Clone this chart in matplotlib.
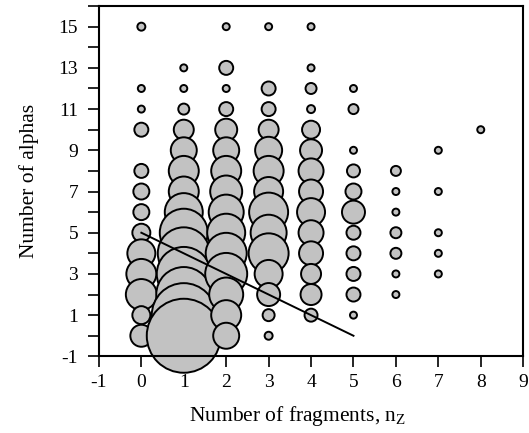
import matplotlib
matplotlib.use("Agg")
import matplotlib.pyplot as plt
import numpy as np

# fragment multiplicity, alpha multiplicity and relative bubble radius
nz = [0] * 13 + [1] * 14 + [2] * 15 + [3] * 14 + [4] * 14 + [5] * 11 + [6] * 7 + [7] * 5 + [8]
alphas = [15, 12, 11, 10, 8, 7, 6, 5, 4, 3, 2, 1, 0,
          13, 12, 11, 10, 9, 8, 7, 6, 5, 4, 3, 2, 1, 0,
          15, 13, 12, 11, 10, 9, 8, 7, 6, 5, 4, 3, 2, 1, 0,
          15, 12, 11, 10, 9, 8, 7, 6, 5, 4, 3, 2, 1, 0,
          15, 13, 12, 11, 10, 9, 8, 7, 6, 5, 4, 3, 2, 1,
          12, 11, 9, 8, 7, 6, 5, 4, 3, 2, 1,
          8, 7, 6, 5, 4, 3, 2,
          9, 7, 5, 4, 3,
          10]
weight = [4, 3.5, 3.5, 7, 7, 8, 8, 9, 14, 15, 15.5, 9, 11,
          3.5, 3.5, 5.5, 10, 13, 15, 15, 19, 24, 26, 27, 27.5, 32, 37,
          3.5, 7, 3.5, 7, 11, 13, 15, 16, 17.5, 19, 20.5, 21, 17, 15, 13,
          3.5, 7, 7, 10, 13.5, 15, 14.5, 19.5, 18, 20, 14, 11.5, 6, 4,
          3.5, 3.5, 5.5, 4, 9, 11, 12.5, 12, 14, 12.5, 12, 10, 10.5, 6.5,
          3.5, 5, 3.5, 6.5, 8, 11.5, 7, 7, 7, 7, 3.5,
          5, 3.5, 3.5, 5.5, 5.5, 3.5, 3.5,
          3.5, 3.5, 3.5, 3.5, 3.5,
          3.5]

# straight-line trend drawn across the distribution
line_x = [0, 5]
line_y = [5, 0]

plt.rcParams['font.family'] = ['Liberation Serif', 'DejaVu Serif']
plt.rcParams['axes.unicode_minus'] = False

fig = plt.figure(figsize=(5.29, 4.33), dpi=100)
ax = fig.add_axes([0.187, 0.177, 0.802, 0.809])

# radius in pixels -> marker area in points^2
size = (2 * np.array(weight) * 72 / 100) ** 2
ax.scatter(nz, alphas, s=size, c='#c2c2c2', edgecolors='black', linewidths=1.4,
           zorder=2, clip_on=False)
ax.plot(line_x, line_y, color='black', linewidth=1.4, zorder=3)

ax.set_xlim(-1, 9)
ax.set_ylim(-1, 16)
ax.set_xticks(np.arange(-1, 10, 1))
ax.set_yticks(np.arange(-1, 16, 2))
ax.set_yticks(np.arange(0, 17, 2), minor=True)
ax.tick_params(axis='both', direction='out', length=8, width=1.2, labelsize=14)
ax.tick_params(axis='y', which='minor', direction='out', length=8, width=1.2)
ax.tick_params(axis='x', pad=5)
ax.tick_params(axis='y', pad=7)
for sp in ax.spines.values():
    sp.set_linewidth(1.5)

ax.set_xlabel('Number of fragments, n$_\\mathregular{Z}$', fontsize=15.5)
ax.xaxis.set_label_coords(0.468, -0.135)
ax.set_ylabel('Number of alphas', fontsize=15.5, labelpad=14)

fig.savefig('out.png', dpi=100)
